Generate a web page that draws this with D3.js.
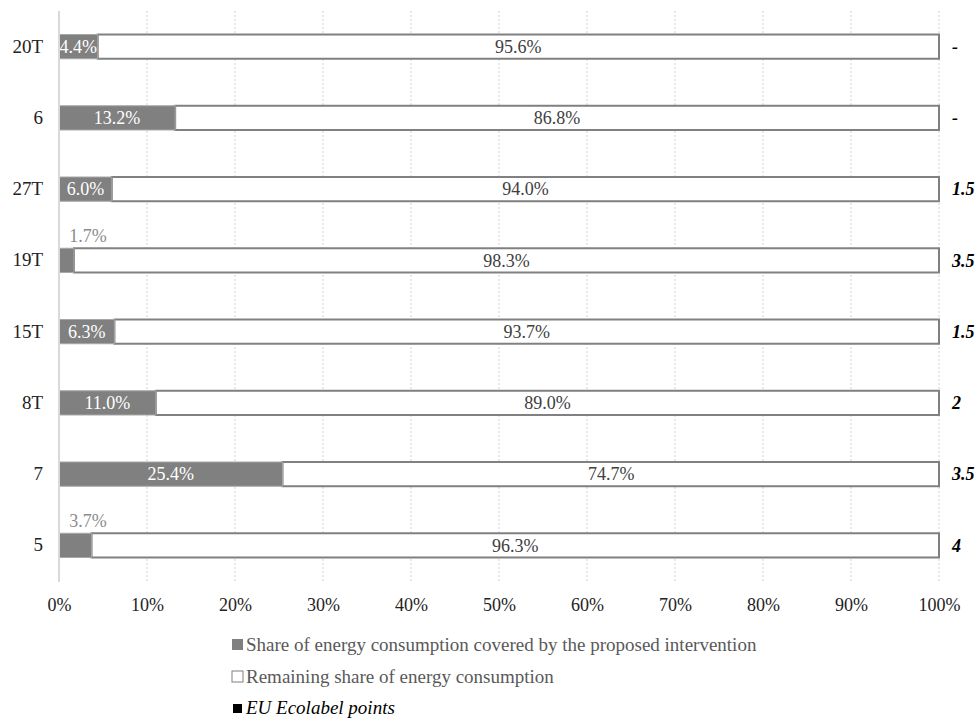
<!DOCTYPE html>
<html>
<head>
<meta charset="utf-8">
<script src="https://cdn.jsdelivr.net/npm/d3@7"></script>
<style>
  body { margin: 0; background: #fff; }
  text { font-family: "Liberation Serif", "Times New Roman", serif; }
</style>
</head>
<body>
<script>
// categories top to bottom
var categories = ["20T", "6", "27T", "19T", "15T", "8T", "7", "5"];
var covered = [4.4, 13.2, 6.0, 1.7, 6.3, 11.0, 25.4, 3.7];
var remaining = [95.6, 86.8, 94.0, 98.3, 93.7, 89.0, 74.7, 96.3];
var points = ["-", "-", "1.5", "3.5", "1.5", "2", "3.5", "4"];
var ticks = [0, 10, 20, 30, 40, 50, 60, 70, 80, 90, 100];
var legendLabels = [
  "Share of energy consumption covered by the proposed intervention",
  "Remaining share of energy consumption",
  "EU Ecolabel points"
];

var w = 979, h = 720;
var plotLeft = 59, plotRight = 939, plotTop = 11, plotBottom = 581;

var svg = d3.select("body").append("svg")
  .attr("width", w)
  .attr("height", h);

var x = d3.scaleLinear().domain([0, 100]).range([plotLeft, plotRight]);
var y = d3.scaleBand().domain(categories).range([plotTop, plotBottom]).paddingInner(0.66).paddingOuter(0.33);

// labels placed above the bar (outside)
function outside(i) {
  return covered[i] < 3 || i == 7;
}

// gridlines
svg.append("g")
  .selectAll("line")
  .data(ticks.slice(1))
  .enter()
  .append("line")
  .attr("x1", function(d) { return x(d); })
  .attr("x2", function(d) { return x(d); })
  .attr("y1", plotTop)
  .attr("y2", plotBottom)
  .attr("stroke", "#d0d0d0")
  .attr("stroke-width", 1)
  .attr("stroke-dasharray", "2,2");

// x axis labels
var xAxis = d3.axisBottom(x)
  .tickValues(ticks)
  .tickFormat(function(d) { return d + "%"; })
  .tickSize(0)
  .tickPadding(17);
var gx = svg.append("g")
  .attr("transform", "translate(0," + plotBottom + ")")
  .call(xAxis);
gx.select(".domain").remove();
gx.selectAll("text")
  .attr("font-size", 18)
  .attr("fill", "#222")
  .attr("font-family", "Liberation Serif, serif");

// y axis labels
var yAxis = d3.axisLeft(y).tickSize(0).tickPadding(16);
var gy = svg.append("g")
  .attr("transform", "translate(" + plotLeft + ",0)")
  .call(yAxis);
gy.select(".domain").remove();
gy.selectAll("text")
  .attr("font-size", 19)
  .attr("fill", "#222")
  .attr("font-family", "Liberation Serif, serif");

// bars
var rows = svg.append("g")
  .selectAll("g")
  .data(categories)
  .enter()
  .append("g");

// remaining share (white)
rows.append("rect")
  .attr("x", function(d, i) { return x(covered[i]); })
  .attr("y", function(d) { return y(d); })
  .attr("width", function(d, i) { return x(Math.min(100, covered[i] + remaining[i])) - x(covered[i]); })
  .attr("height", y.bandwidth())
  .attr("fill", "#fff")
  .attr("stroke", "#808080")
  .attr("stroke-width", 2);

// covered share (gray)
rows.append("rect")
  .attr("x", x(0))
  .attr("y", function(d) { return y(d); })
  .attr("width", function(d, i) { return x(covered[i]) - x(0); })
  .attr("height", y.bandwidth())
  .attr("fill", "#808080")
  .attr("stroke", "#a6a6a6")
  .attr("stroke-width", 1);

// covered labels
rows.append("text")
  .attr("x", function(d, i) {
    return outside(i) ? x(0) + 29 : x(covered[i] / 2);
  })
  .attr("y", function(d, i) {
    return outside(i) ? y(d) - 13 : y(d) + y.bandwidth() / 2;
  })
  .attr("dy", "0.35em")
  .attr("text-anchor", "middle")
  .attr("font-size", 18)
  .attr("fill", function(d, i) { return outside(i) ? "#8c8c8c" : "#fff"; })
  .text(function(d, i) { return covered[i].toFixed(1) + "%"; });

// remaining labels
rows.append("text")
  .attr("x", function(d, i) { return x(covered[i] + remaining[i] / 2); })
  .attr("y", function(d) { return y(d) + y.bandwidth() / 2; })
  .attr("dy", "0.35em")
  .attr("text-anchor", "middle")
  .attr("font-size", 18)
  .attr("fill", "#404040")
  .text(function(d, i) { return remaining[i].toFixed(1) + "%"; });

// ecolabel points
rows.append("text")
  .attr("x", plotRight + 13)
  .attr("y", function(d) { return y(d) + y.bandwidth() / 2; })
  .attr("dy", "0.35em")
  .attr("font-size", 18)
  .attr("font-weight", "bold")
  .attr("font-style", "italic")
  .attr("fill", "#000")
  .text(function(d, i) { return points[i]; });

// y axis line
svg.append("line")
  .attr("x1", plotLeft)
  .attr("x2", plotLeft)
  .attr("y1", plotTop)
  .attr("y2", plotBottom + 1)
  .attr("stroke", "#d9d9d9")
  .attr("stroke-width", 2);

// legend
var legend = svg.append("g")
  .selectAll("g")
  .data(legendLabels)
  .enter()
  .append("g")
  .attr("transform", function(d, i) { return "translate(232," + [644, 676, 707][i] + ")"; });

legend.append("rect")
  .attr("x", function(d, i) { return i == 2 ? 1 : 0; })
  .attr("y", function(d, i) { return i == 2 ? -3 : -5; })
  .attr("width", function(d, i) { return i == 2 ? 9 : 11; })
  .attr("height", function(d, i) { return i == 2 ? 9 : 11; })
  .attr("fill", function(d, i) { return ["#808080", "#fff", "#000"][i]; })
  .attr("stroke", function(d, i) { return i == 1 ? "#808080" : "none"; })
  .attr("stroke-width", 1);

legend.append("text")
  .attr("x", 14)
  .attr("dy", "0.35em")
  .attr("font-size", 19)
  .attr("fill", function(d, i) { return i == 2 ? "#000" : "#595959"; })
  .attr("font-style", function(d, i) { return i == 2 ? "italic" : "normal"; })
  .text(function(d) { return d; });
</script>
</body>
</html>
